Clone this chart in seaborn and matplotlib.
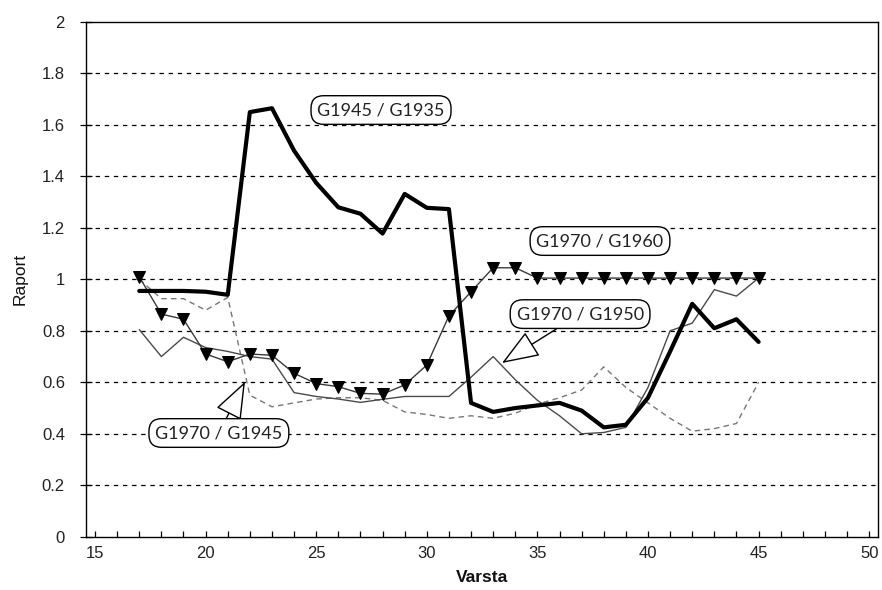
import numpy as np
import pandas as pd
import matplotlib
matplotlib.use("Agg")
import matplotlib.pyplot as plt
import seaborn as sns

# ---- data ----
varsta = list(range(17, 46))

g1945_g1935 = [0.955, 0.955, 0.955, 0.952, 0.94, 1.65, 1.665, 1.50, 1.375, 1.28,
               1.255, 1.178, 1.332, 1.278, 1.273, 0.52, 0.485, 0.50, 0.51, 0.52,
               0.49, 0.425, 0.435, 0.54, 0.72, 0.905, 0.81, 0.845, 0.757]

g1970_g1960 = [1.01, 0.865, 0.845, 0.71, 0.68, 0.71, 0.705, 0.635, 0.595, 0.583,
               0.557, 0.554, 0.59, 0.667, 0.858, 0.952, 1.045, 1.045, 1.005, 1.005,
               1.005, 1.005, 1.005, 1.005, 1.005, 1.005, 1.005, 1.005, 1.005]

g1970_g1950 = [0.805, 0.70, 0.775, 0.735, 0.72, 0.70, 0.69, 0.56, 0.545, 0.535,
               0.522, 0.534, 0.545, 0.545, 0.545, 0.62, 0.70, 0.61, 0.53, 0.47,
               0.40, 0.405, 0.425, 0.58, 0.80, 0.83, 0.96, 0.935, 1.005]

g1970_g1945 = [1.0, 0.925, 0.925, 0.88, 0.93, 0.55, 0.505, 0.52, 0.535, 0.54,
               0.54, 0.53, 0.485, 0.475, 0.46, 0.47, 0.46, 0.48, 0.515, 0.54,
               0.57, 0.66, 0.58, 0.52, 0.46, 0.41, 0.42, 0.44, 0.60]

labels = ["G1945 / G1935", "G1970 / G1960", "G1970 / G1950", "G1970 / G1945"]
x_ticks = [15, 20, 25, 30, 35, 40, 45, 50]
y_ticks = [0, 0.2, 0.4, 0.6, 0.8, 1, 1.2, 1.4, 1.6, 1.8, 2]
y_tick_labels = ["0", "0.2", "0.4", "0.6", "0.8", "1", "1.2", "1.4", "1.6", "1.8", "2"]

df = pd.DataFrame({
    "Varsta": varsta,
    labels[0]: g1945_g1935,
    labels[1]: g1970_g1960,
    labels[2]: g1970_g1950,
    labels[3]: g1970_g1945,
})

# ---- figure ----
sns.set_theme(style="white")
plt.rcParams["font.family"] = ["Liberation Sans", "DejaVu Sans"]

fig = plt.figure(figsize=(8.82, 5.90), dpi=100)
ax = fig.add_axes([0.0972, 0.0903, 0.8983, 0.8724])

# grid (dashed horizontal lines)
for yv in y_ticks[1:-1]:
    ax.axhline(yv, color="black", lw=0.9, ls=(0, (3.5, 3.8)), zorder=0)

sns.lineplot(data=df, x="Varsta", y=labels[3], ax=ax, color="#777777",
             lw=1.0, zorder=2)
ax.lines[-1].set_linestyle((0, (4, 3)))
sns.lineplot(data=df, x="Varsta", y=labels[2], ax=ax, color="#4a4a4a",
             lw=1.0, zorder=3)
sns.lineplot(data=df, x="Varsta", y=labels[1], ax=ax, color="#3a3a3a",
             lw=1.0, marker="v", markersize=8, markerfacecolor="black",
             markeredgecolor="black", zorder=4)
sns.lineplot(data=df, x="Varsta", y=labels[0], ax=ax, color="black",
             lw=3.0, zorder=5)

ax.set_xlim(14.58, 50.4)
ax.set_ylim(0, 2)
ax.set_xticks(x_ticks)
ax.set_xticks(range(15, 51), minor=True)
ax.set_yticks(y_ticks)
ax.set_yticklabels(y_tick_labels)
ax.tick_params(axis="x", which="both", direction="in", length=4, width=0.9,
               colors="black", labelsize=12, bottom=True, pad=7)
ax.tick_params(axis="y", which="major", direction="inout", length=8, width=0.9,
               colors="black", labelsize=12, left=True, pad=11)
for lab in ax.get_xticklabels() + ax.get_yticklabels():
    lab.set_color("#222222")

for s in ax.spines.values():
    s.set_color("black")
    s.set_linewidth(1.0)

ax.set_xlabel("Varsta", fontsize=12.5, fontweight="bold", color="#111111",
              labelpad=6, fontstretch="condensed")
ax.set_ylabel("Raport", fontsize=12.5, color="#111111", labelpad=10)

box = dict(boxstyle="round,pad=0.35,rounding_size=0.7", fc="white",
           ec="black", lw=1.0)
afont = dict(fontsize=13, family=["Lato", "DejaVu Sans"], color="#222222",
             ha="center", va="center", zorder=10)

ax.text(27.93, 1.658, labels[0], bbox=box, **afont)
ax.text(37.83, 1.149, labels[1], bbox=box, **afont)

arrow = dict(arrowstyle="-|>,head_length=0.85,head_width=0.32", fc="white",
             ec="black", lw=1.0, mutation_scale=28, shrinkA=0, shrinkB=0)
ax.annotate(labels[2], xy=(33.4, 0.675), xytext=(36.93, 0.865),
            bbox=box, arrowprops=arrow, **afont)
ax.annotate(labels[3], xy=(21.78, 0.602), xytext=(20.6, 0.403),
            bbox=box, arrowprops=arrow, **afont)

fig.savefig("out.png", dpi=100)
